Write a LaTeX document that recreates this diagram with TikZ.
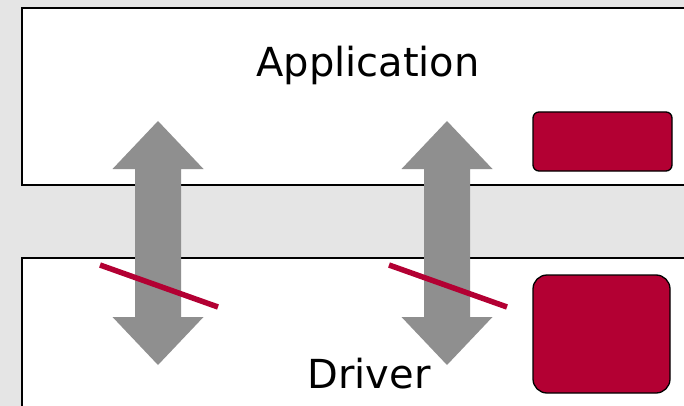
\documentclass[tikz,border=0pt]{standalone}
\usepackage{fontspec}
\setmainfont{DejaVu Sans}
\definecolor{bggray}{HTML}{E5E5E5}
\definecolor{arrgray}{HTML}{8F8F8F}
\definecolor{darkred}{HTML}{B30033}
\begin{document}
\begin{tikzpicture}[x=1pt,y=-1pt,
  layer/.style={draw=black,line width=1.4pt,fill=white},
  redbox/.style={draw=black,line width=1.3pt,fill=darkred},
  bigarrow/.style={fill=arrgray,draw=none},
  cut/.style={draw=darkred,line width=5.5pt},
  label/.style={font=\fontsize{40}{48}\selectfont,anchor=base,inner sep=0pt}]
\useasboundingbox (0,0) rectangle (684,406);
\clip (0,0) rectangle (684,406);
\fill[bggray] (0,0) rectangle (684,406);
% layers
\path[layer] (22,8) rectangle (720,185);
\path[layer] (22,258) rectangle (720,440);
\node[label] (app) at (368,77) {Application};
\node[label] (drv) at (369,388) {Driver};
% red boxes
\path[redbox,rounded corners=6pt] (533,112) rectangle (672,171);
\path[redbox,rounded corners=14pt] (533,275) rectangle (670,393);
% double arrows
\foreach \c/\n in {158/a1,447/a2}{
  \path[bigarrow] (\c,121) -- (\c+45.5,169) -- (\c+23,169) -- (\c+23,317) -- (\c+45.5,317)
    -- (\c,365) -- (\c-45.5,317) -- (\c-23,317) -- (\c-23,169) -- (\c-45.5,169) -- cycle;
}
% cut lines
\coordinate (c1a) at (100,265);
\coordinate (c1b) at (218,307);
\coordinate (c2a) at (389,265);
\coordinate (c2b) at (507,307);
\draw[cut] (c1a) -- (c1b);
\draw[cut] (c2a) -- (c2b);
\end{tikzpicture}
\end{document}
